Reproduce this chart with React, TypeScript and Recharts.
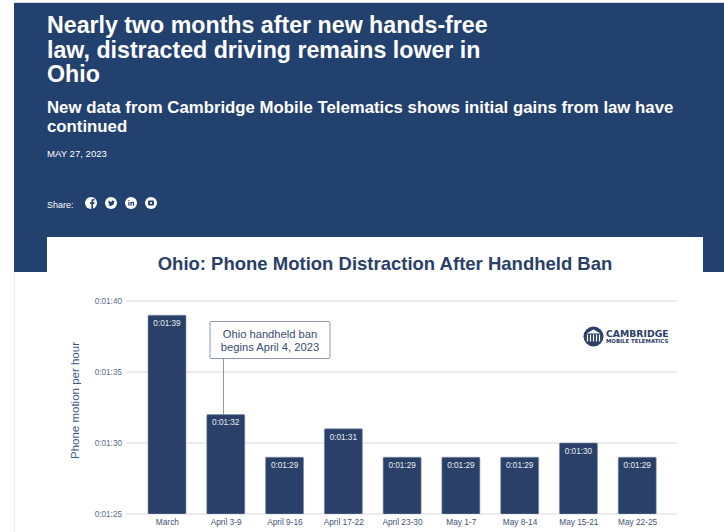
import { BarChart, Bar, XAxis, YAxis, CartesianGrid, LabelList } from 'recharts';

const weeks = ['March', 'April 3-9', 'April 9-16', 'April 17-22', 'April 23-30', 'May 1-7', 'May 8-14', 'May 15-21', 'May 22-25'];
// seconds of phone motion per hour of driving
const phoneMotion = [99, 92, 89, 91, 89, 89, 89, 90, 89];
const yTicks = [85, 90, 95, 100];
const headline = ['Nearly two months after new hands-free', 'law, distracted driving remains lower in', 'Ohio'];
const subhead = ['New data from Cambridge Mobile Telematics shows initial gains from law have', 'continued'];

const NAVY = '#23416f';
const BAR = '#2a4068';
const FONT = '"Liberation Sans", Arial, sans-serif';

const toClock = (s: number | string) => `0:01:${String(Number(s) - 60).padStart(2, '0')}`;

const data = weeks.map((week, i) => ({ week, value: phoneMotion[i] }));

// small share glyphs, drawn on a 12x12 white disc
const shareGlyphs = [
  <path key="fb" d="M6.4 12V7H5V5.3h1.4V4c0-1.4.8-2.1 2-2.1h1.2v1.7h-.8c-.6 0-.8.3-.8.8v.9h1.6L9.4 7H8v5z" fill={NAVY} />,
  <path key="tw" d="M2.6 8.4c2.6 1.5 6.6.3 6.6-3.6l.7-.8-.9.2c-.5-1-2.4-.9-2.5.8-1.2 0-2.2-.5-3-1.4-.4.9-.2 1.7.5 2.3l-.6-.1c0 .8.5 1.3 1.2 1.5h-.7c.2.5.7.8 1.3.9-.7.4-1.5.4-2.6.2z" fill={NAVY} />,
  <path key="in" d="M3.3 4.9h1.2v3.9H3.3zM3.3 3.2h1.2v1.1H3.3zM5.4 4.9h1.1v.6c.6-1 2.6-1 2.6.8v2.5H7.9V6.6c0-1-1.3-.9-1.3 0v2.2H5.4z" fill={NAVY} />,
  <g key="mail"><rect x={3} y={3.6} width={6} height={4.8} rx={0.8} fill={NAVY} /><circle cx={6} cy={6} r={1.1} fill="#fff" /></g>,
];

function Header() {
  return (
    <div style={{ position: 'absolute', left: 14, top: 3, width: 710, height: 269, background: NAVY, color: '#fff' }}>
      <div style={{ position: 'absolute', left: 33, top: 10.2, fontSize: 23.2, lineHeight: '24.5px', fontWeight: 700, whiteSpace: 'nowrap' }}>
        {headline.map((l) => <div key={l}>{l}</div>)}
      </div>
      <div style={{ position: 'absolute', left: 33, top: 94.5, fontSize: 16.8, lineHeight: '19px', fontWeight: 700, whiteSpace: 'nowrap' }}>
        {subhead.map((l) => <div key={l}>{l}</div>)}
      </div>
      <div style={{ position: 'absolute', left: 33, top: 145, fontSize: 9.6, lineHeight: '12px', whiteSpace: 'nowrap' }}>MAY 27, 2023</div>
      <div style={{ position: 'absolute', left: 33, top: 196, fontSize: 9, lineHeight: '12px' }}>Share:</div>
      {shareGlyphs.map((glyph, i) => (
        <svg key={i} width={12} height={12} style={{ position: 'absolute', left: 71 + i * 20, top: 194.3 }}>
          <circle cx={6} cy={6} r={6} fill="#fff" />
          {glyph}
        </svg>
      ))}
    </div>
  );
}

function Logo() {
  return (
    <g>
      <circle cx={593.5} cy={336.5} r={10} fill={BAR} />
      <path d="M586.5 333.5 L593.5 329.5 L600.5 333.5 Z" fill="#fff" />
      {[587.5, 590.5, 593.5, 596.5, 599.5].map((x) => (
        <rect key={x} x={x - 0.6} y={334.5} width={1.2} height={7} fill="#fff" />
      ))}
      <text x={606} y={336.5} fontSize={9.3} fontWeight={700} fill={BAR} fontFamily="'DejaVu Sans', sans-serif">CAMBRIDGE</text>
      <text x={606} y={342.5} fontSize={5.4} fontWeight={700} fill={BAR} fontFamily="'DejaVu Sans', sans-serif">MOBILE TELEMATICS</text>
    </g>
  );
}

export default function App() {
  return (
    <div style={{ position: 'absolute', left: 0, top: 0, width: 724, height: 532, overflow: 'hidden', background: '#fff', fontFamily: FONT }}>
      <div style={{ position: 'absolute', left: 14, top: 2, width: 710, height: 530, borderLeft: '1px solid #eeeeee', borderTop: '1px solid #dddddd' }} />
      <Header />
      <div style={{ position: 'absolute', left: 47, top: 237, width: 656, height: 295, background: '#fff' }} />
      <div style={{ position: 'absolute', left: 47, top: 252, width: 676, textAlign: 'center', color: BAR, fontSize: 18.5, lineHeight: '24px', fontWeight: 700, whiteSpace: 'nowrap' }}>
        Ohio: Phone Motion Distraction After Handheld Ban
      </div>
      <div style={{ position: 'absolute', left: 0, top: 0 }}>
        <BarChart width={724} height={532} data={data} margin={{ top: 301, right: 47, bottom: 0, left: 66 }}>
          <CartesianGrid horizontal vertical={false} stroke="#e6e6e8" strokeWidth={1.5} />
          <XAxis
            dataKey="week"
            axisLine={false}
            tickLine={false}
            interval={0}
            height={18}
            padding={{ left: 12, right: 10 }}
            tick={{ fontSize: 8.3, fill: '#3f5175', fontFamily: FONT }}
            tickSize={0}
            tickMargin={5}
          />
          <YAxis
            width={60}
            domain={[85, 100]}
            ticks={yTicks}
            allowDataOverflow
            tickFormatter={toClock}
            axisLine={false}
            tickLine={false}
            tickSize={2}
            tick={{ fontSize: 8.2, fill: '#5a6a88', fontFamily: FONT }}
            label={{ value: 'Phone motion per hour', angle: -90, position: 'insideLeft', offset: 9, dy: -7, style: { fontSize: 11.5, fill: '#3f5a8a', textAnchor: 'middle', fontFamily: FONT } }}
          />
          <Bar dataKey="value" fill={BAR} stroke="#7f8eaa" strokeWidth={0.6} barSize={38} radius={1} isAnimationActive={false}>
            <LabelList dataKey="value" position="insideTop" offset={5} formatter={toClock} style={{ fontSize: 8.2, fill: '#e8ebf2', stroke: 'none', fontFamily: FONT }} />
          </Bar>
          <line x1={223.5} y1={358} x2={223.5} y2={415} stroke="#8c97ad" strokeWidth={1} />
          <rect x={210} y={321.5} width={120} height={37} fill="#fff" stroke="#8c97ad" strokeWidth={1} rx={1} />
          <text x={270} y={338} textAnchor="middle" fontSize={11.2} fill="#3a4d72" fontFamily={FONT}>Ohio handheld ban</text>
          <text x={270} y={351} textAnchor="middle" fontSize={11.2} fill="#3a4d72" fontFamily={FONT}>begins April 4, 2023</text>
          <Logo />
        </BarChart>
      </div>
    </div>
  );
}
